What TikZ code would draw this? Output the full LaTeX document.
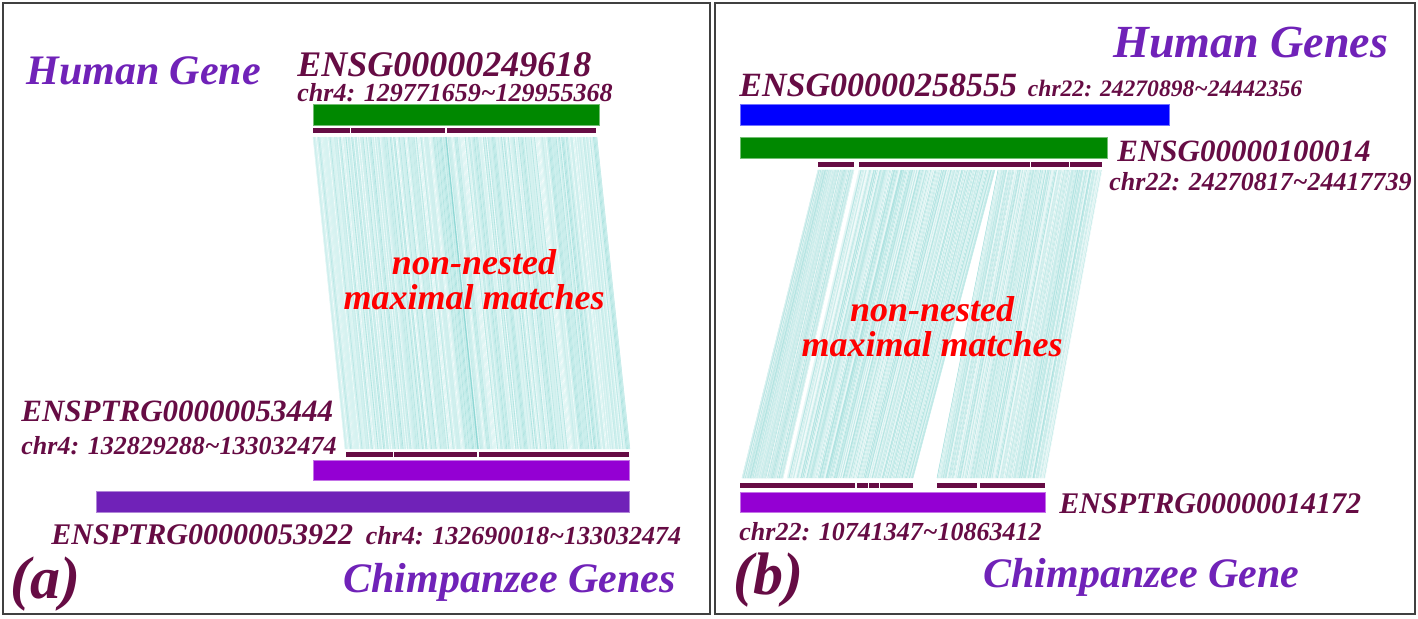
\documentclass[tikz,border=0pt]{standalone}
\usepackage{fontspec}
\setmainfont{Liberation Serif}
\usetikzlibrary{positioning}

\definecolor{idred}{RGB}{102,12,68}
\definecolor{tagpurple}{RGB}{112,34,184}
\definecolor{chimpviolet}{RGB}{148,0,211}
\definecolor{humgreen}{RGB}{0,136,0}
\definecolor{humblue}{RGB}{0,0,255}
\definecolor{hitcyan}{RGB}{95,200,195}
\definecolor{hitbg}{RGB}{212,243,241}

% one band of matches: top x1..x2 at y1, bottom x3..x4 at y2
\newcommand\hitband[6]{%
  \fill[hitbg] (#1,#3) -- (#2,#3) -- (#5,#6) -- (#4,#6) -- cycle;
  \foreach \t in {0,0.004,...,1.001}{%
    \pgfmathtruncatemacro\m{5+50*rnd}%
    \draw[hitcyan!\m!white, line width=0.3pt]
      ({#1+\t*(#2-#1)},#3) -- ({#4+\t*(#5-#4)},#6);
  }%
}
\newcommand\tl{\textasciitilde}

\begin{document}
\begin{tikzpicture}[
  x=0.5pt, y=-0.5pt,
  tag/.style={font=\fontsize{#1}{#1}\selectfont\bfseries\itshape,
    text=tagpurple, inner sep=0pt, anchor=base west},
  tag/.default=21,
  gid/.style={font=\fontsize{#1}{#1}\selectfont\bfseries\itshape,
    text=idred, inner sep=0pt, anchor=base west},
  gid/.default=18,
  loc/.style={font=\fontsize{#1}{#1}\selectfont\bfseries\itshape,
    text=idred, inner sep=0pt, anchor=base west},
  loc/.default=13,
  note/.style={font=\fontsize{18}{17.5}\selectfont\bfseries\itshape,
    text=red, align=center, inner sep=0pt},
  panel/.style={draw=black!75, line width=1pt},
  hit/.style={fill=idred},
  bar/.style={fill=#1, draw=#1!55!white, line width=0.5pt}
]
\pgfmathsetseed{4242}
\useasboundingbox (0,0) rectangle (1418,618);

% ===== Frames =====
\draw[panel] (3,3) rectangle (710,614);
\draw[panel] (715,3) rectangle (1415,614);

% ===== (a) matches =====
\hitband{313}{597}{137}{345}{630}{449}
\draw[hitcyan!70!white, line width=0.6pt] (446,137) -- (478,449);

% ===== (a) gene bars =====
\filldraw[bar=humgreen] (313,104) rectangle (599,125);
\fill[hit] (313,128) rectangle (350,133);
\fill[hit] (351,128) rectangle (445,133);
\fill[hit] (447,128) rectangle (596,133);
\fill[hit] (346,452) rectangle (393,457);
\fill[hit] (394,452) rectangle (477,457);
\fill[hit] (479,452) rectangle (629,457);
\filldraw[bar=chimpviolet] (313,460) rectangle (629,480);
\filldraw[bar=tagpurple] (96,491) rectangle (629,512);

% ===== (a) labels =====
\node[tag] (hga) at (26,84) {Human Gene};
\node[gid] (ga1) at (297,76) {ENSG00000249618};
\node[loc] (la1) at (297,101) {chr4: 129771659\tl129955368};
\node[gid=15.5] (ca1) at (21,421) {ENSPTRG00000053444};
\node[loc] (lc1) at (21,454) {chr4: 132829288\tl133032474};
\node[gid=15] (ca2) at (51,544) {ENSPTRG00000053922};
\node[loc, base right=12 of ca2] (lc2) {chr4: 132690018\tl133032474};
\node[gid=30] (pa) at (10,598) {(a)};
\node[tag=21] (cga) at (343,592) {Chimpanzee Genes};
\node[note] (na) at (474,280) {non-nested\\maximal matches};

% ===== (b) matches =====
\hitband{818}{854}{170}{742}{783}{478}
\hitband{859}{995}{170}{787}{913}{478}
\hitband{998}{1102}{170}{937}{1045}{478}

% ===== (b) gene bars =====
\filldraw[bar=humblue] (740,104) rectangle (1169,125);
\filldraw[bar=humgreen] (740,137) rectangle (1107,158);
\foreach \a/\b in {818/854, 859/1030, 1031/1069, 1070/1102}
  \fill[hit] (\a,162) rectangle (\b,167);
\foreach \a/\b in {740/855, 857/868, 869/879, 880/913, 937/977, 980/1045}
  \fill[hit] (\a,483) rectangle (\b,488);
\filldraw[bar=chimpviolet] (740,492) rectangle (1045,512);

% ===== (b) labels =====
\node[tag=23] (hgb) at (1113,57) {Human Genes};
\node[gid=17] (gb1) at (739,96) {ENSG00000258555};
\node[loc=11.8, base right=10 of gb1] (lb1) {chr22: 24270898\tl24442356};
\node[gid=15.5] (gb2) at (1117,161) {ENSG00000100014};
\node[loc=13] (lb2) at (1109,190) {chr22: 24270817\tl24417739};
\node[gid=15] (cb1) at (1059,513) {ENSPTRG00000014172};
\node[loc] (lc3) at (739,540) {chr22: 10741347\tl10863412};
\node[gid=30] (pb) at (733,594) {(b)};
\node[tag=21] (cgb) at (983,587) {Chimpanzee Gene};
\node[note] (nb) at (932,327) {non-nested\\maximal matches};

\end{tikzpicture}
\end{document}
